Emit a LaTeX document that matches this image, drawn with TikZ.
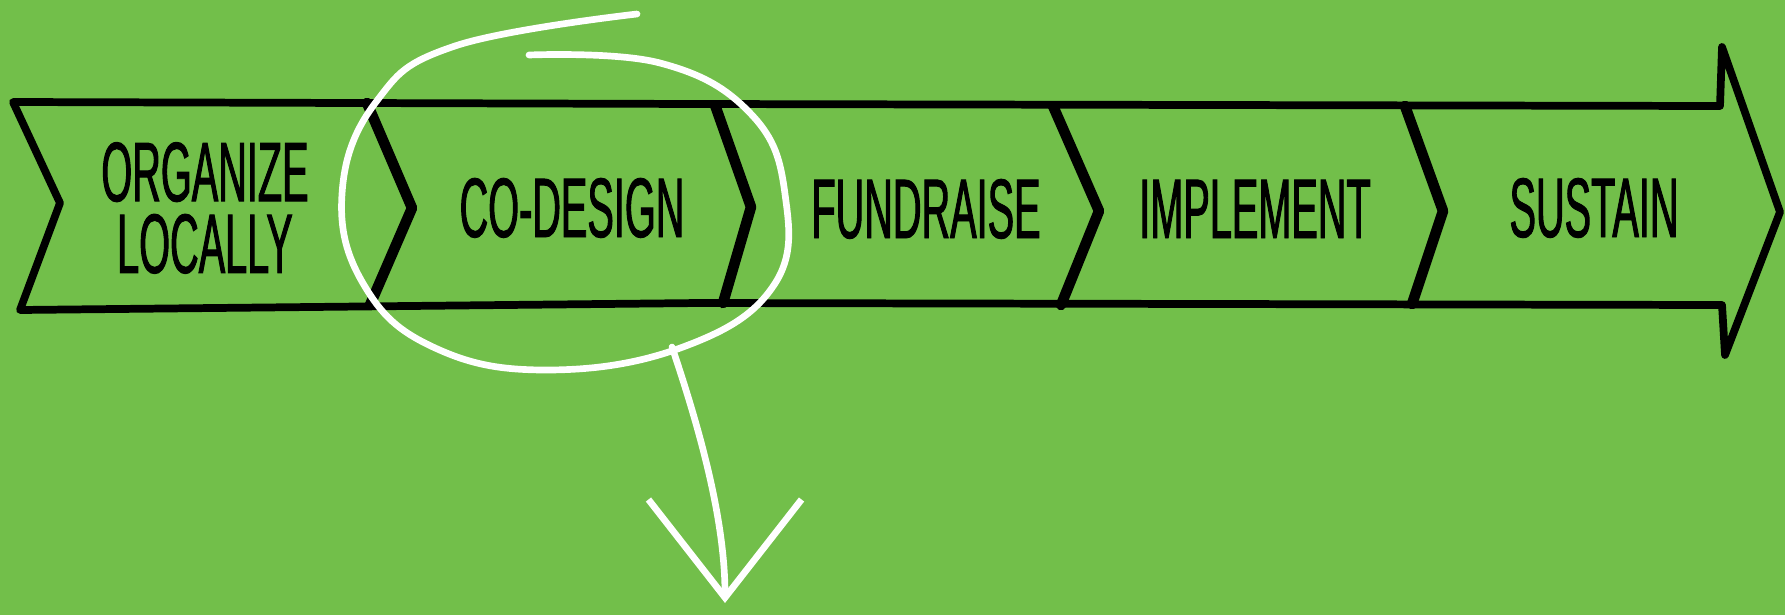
\documentclass[tikz,border=0pt]{standalone}
\usepackage{fontspec}
\usepackage{tikz}
\usetikzlibrary{arrows.meta}
\newfontfamily\handfont[FakeStretch=0.47, FakeBold=1.1]{Liberation Sans}
\definecolor{bggreen}{RGB}{114,191,74}
\tikzset{
  outline/.style={black, line width=2.2pt, line join=round, line cap=round},
  chevron/.style={black, line width=3pt, line join=round, line cap=round},
  steplabel/.style={font=\handfont\fontsize{24}{20.4}\selectfont, align=center, inner sep=0pt},
  chalk/.style={white, line width=1.9pt, line cap=round, line join=round},
}

\begin{document}
\begin{tikzpicture}[x=0.01cm, y=-0.01cm]
  \useasboundingbox (0,0) rectangle (1785,615);
  \fill[bggreen] (0,0) rectangle (1785,615);

  %矢印の外形
  \draw[outline] (13,102) -- (700,104) -- (1720,106) -- (1722,47) -- (1780,212) -- (1725,355) -- (1722,305) -- (700,303) -- (20,310) -- (60,203) -- cycle;

  %区切りを書く
  \draw[chevron] (367,103) -- (412,208) -- (370,305);
  \draw[chevron] (715,105) -- (751,207) -- (723,303);
  \draw[chevron] (1053,106) -- (1099,211) -- (1061,305);
  \draw[chevron] (1405,106) -- (1443,211) -- (1412,304);

  %文字を書く
  \node[steplabel] (organize) at (205,208) {ORGANIZE\\LOCALLY};
  \node[steplabel, anchor=base] (codesign) at (572,237) {CO-DESIGN};
  \node[steplabel, anchor=base] (fundraise) at (926,238) {FUNDRAISE};
  \node[steplabel, anchor=base] (implement) at (1255,238) {IMPLEMENT};
  \node[steplabel, anchor=base] (sustain) at (1594,237) {SUSTAIN};

  %白い丸と矢印
  \draw[chalk] plot[smooth, tension=0.7] coordinates {(637,14) (455,46) (376,102) (342,194) (364,285) (433,347) (546,370) (683,347) (774,285) (785,194) (751,114) (660,63) (529,55)};
  \coordinate (loopbottom) at (672,347);
  \coordinate (tip) at (725,603);
  \draw[chalk, -{Straight Barb[length=9.8mm, width=15.3mm]}] (loopbottom) .. controls (700,430) and (725,520) .. (tip);
\end{tikzpicture}
\end{document}
